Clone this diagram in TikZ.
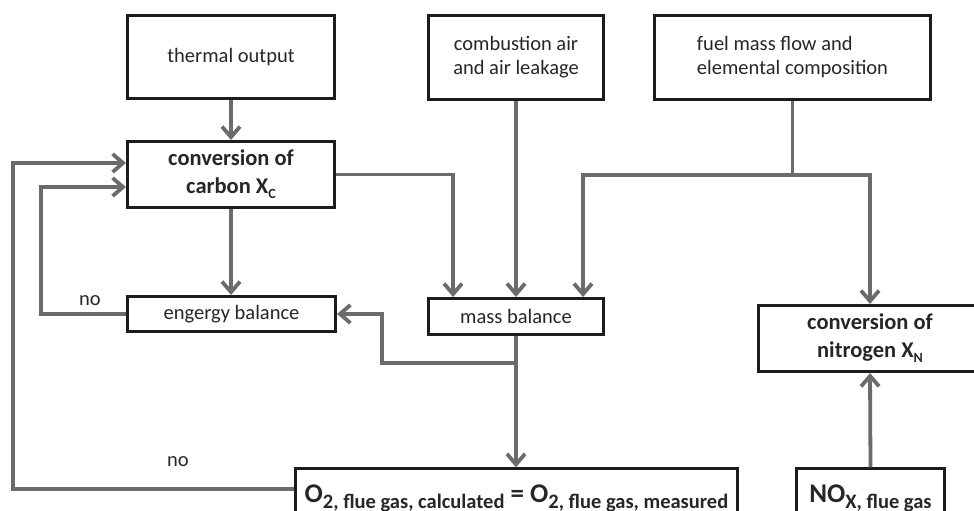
\documentclass[tikz,border=0pt]{standalone}
\usepackage{fontspec}
\setmainfont{Carlito}
\usetikzlibrary{arrows.meta,calc}
\definecolor{lncol}{HTML}{6B6B6B}
\definecolor{bxcol}{HTML}{1C1C1C}
\definecolor{txcol}{HTML}{262626}
\begin{document}
\begin{tikzpicture}[x=1pt,y=-1pt,
  box/.style={draw=bxcol, line width=2.6pt, inner sep=0pt, text=txcol, align=center},
  norm/.style={font=\fontsize{20.5}{24}\selectfont},
  bld/.style={font=\fontsize{22.5}{28}\selectfont\bfseries},
  conn/.style={draw=lncol, line width=3.8pt},
  arr/.style={conn, -{Straight Barb[length=10.5pt,width=18pt]}},
  lbl/.style={norm, text=txcol, inner sep=0pt}]
\useasboundingbox (0,0) rectangle (974,511);
\clip (0,0) rectangle (974,511);

% boxes
\node[box,norm,minimum width=207.4pt,minimum height=83.4pt] (thermal) at (231,57) {thermal output};
\node[box,bld,minimum width=207.4pt,minimum height=66.4pt] (carbon) at (231,174.5)
  {conversion of\\carbon X\raisebox{-5pt}{\fontsize{14}{14}\selectfont C}};
\node[box,norm,minimum width=175.4pt,minimum height=84.4pt] (air) at (516,57.5) {combustion air\\and air leakage};
\node[box,norm,align=left,minimum width=276.4pt,minimum height=84.4pt] (fuel) at (792.5,57.5) {fuel mass flow and\\elemental composition};
\node[box,norm,minimum width=208.4pt,minimum height=35.4pt] (energy) at (231.5,314) {engergy balance};
\node[box,norm,minimum width=175.4pt,minimum height=36.4pt] (mb) at (516,316.5) {mass balance};
\node[box,bld,minimum width=223.4pt,minimum height=66.4pt] (nitro) at (870,338.5)
  {conversion of\\nitrogen X\raisebox{-5pt}{\fontsize{14}{14}\selectfont N}};
\node[box,font=\bfseries,anchor=north,minimum width=442.4pt,text height=34pt,text depth=40pt] (o2) at (516.5,467.3)
  {{\fontsize{27}{30}\selectfont O}\raisebox{-6pt}{\fontsize{20.5}{24}\selectfont 2, flue gas, calculated}%
   {\fontsize{27}{30}\selectfont\ = O}\raisebox{-6pt}{\fontsize{20.5}{24}\selectfont 2, flue gas, measured}};
\node[box,font=\bfseries,anchor=north,minimum width=148.4pt,text height=34pt,text depth=40pt] (nox) at (870.5,467.3)
  {{\fontsize{27}{30}\selectfont NO}\raisebox{-6pt}{\fontsize{20.5}{24}\selectfont X, flue gas}};

% labels
\node[lbl] (no1) at (90,301) {no};
\node[lbl] (no2) at (178,462) {no};

% bend coordinates
\coordinate (b1) at (453,0);
\coordinate (j1) at (792.5,175);
\coordinate (b2) at (583,0);
\coordinate (j2) at (516,363);
\coordinate (b3) at (382,0);
\coordinate (b4) at (41,0);
\coordinate (lo) at (13,489);

% connectors
\draw[arr] (thermal.south) -- (thermal.south |- carbon.north);
\draw[arr] (carbon.south) -- (carbon.south |- energy.north);
\draw[arr] (carbon.east) -| (b1 |- mb.north);
\draw[arr] (air.south) -- (air.south |- mb.north);
\draw[conn] (fuel.south) -- (j1);
\draw[arr] (j1) -| (b2 |- mb.north);
\draw[arr] (j1) -| (nitro.north);
\draw[arr] (mb.south) -- (mb.south |- o2.north);
\draw[arr] (j2) -| (b3 |- energy.east) -- (energy.east);
\draw[arr] (energy.west) -- (b4 |- energy.west) |- ([yshift=-12.5pt]carbon.west);
\draw[arr] (o2.west |- lo) -- (lo) |- ([yshift=11.5pt]carbon.west);
\draw[arr] (nox.north) -- (nitro.south);
\end{tikzpicture}
\end{document}
